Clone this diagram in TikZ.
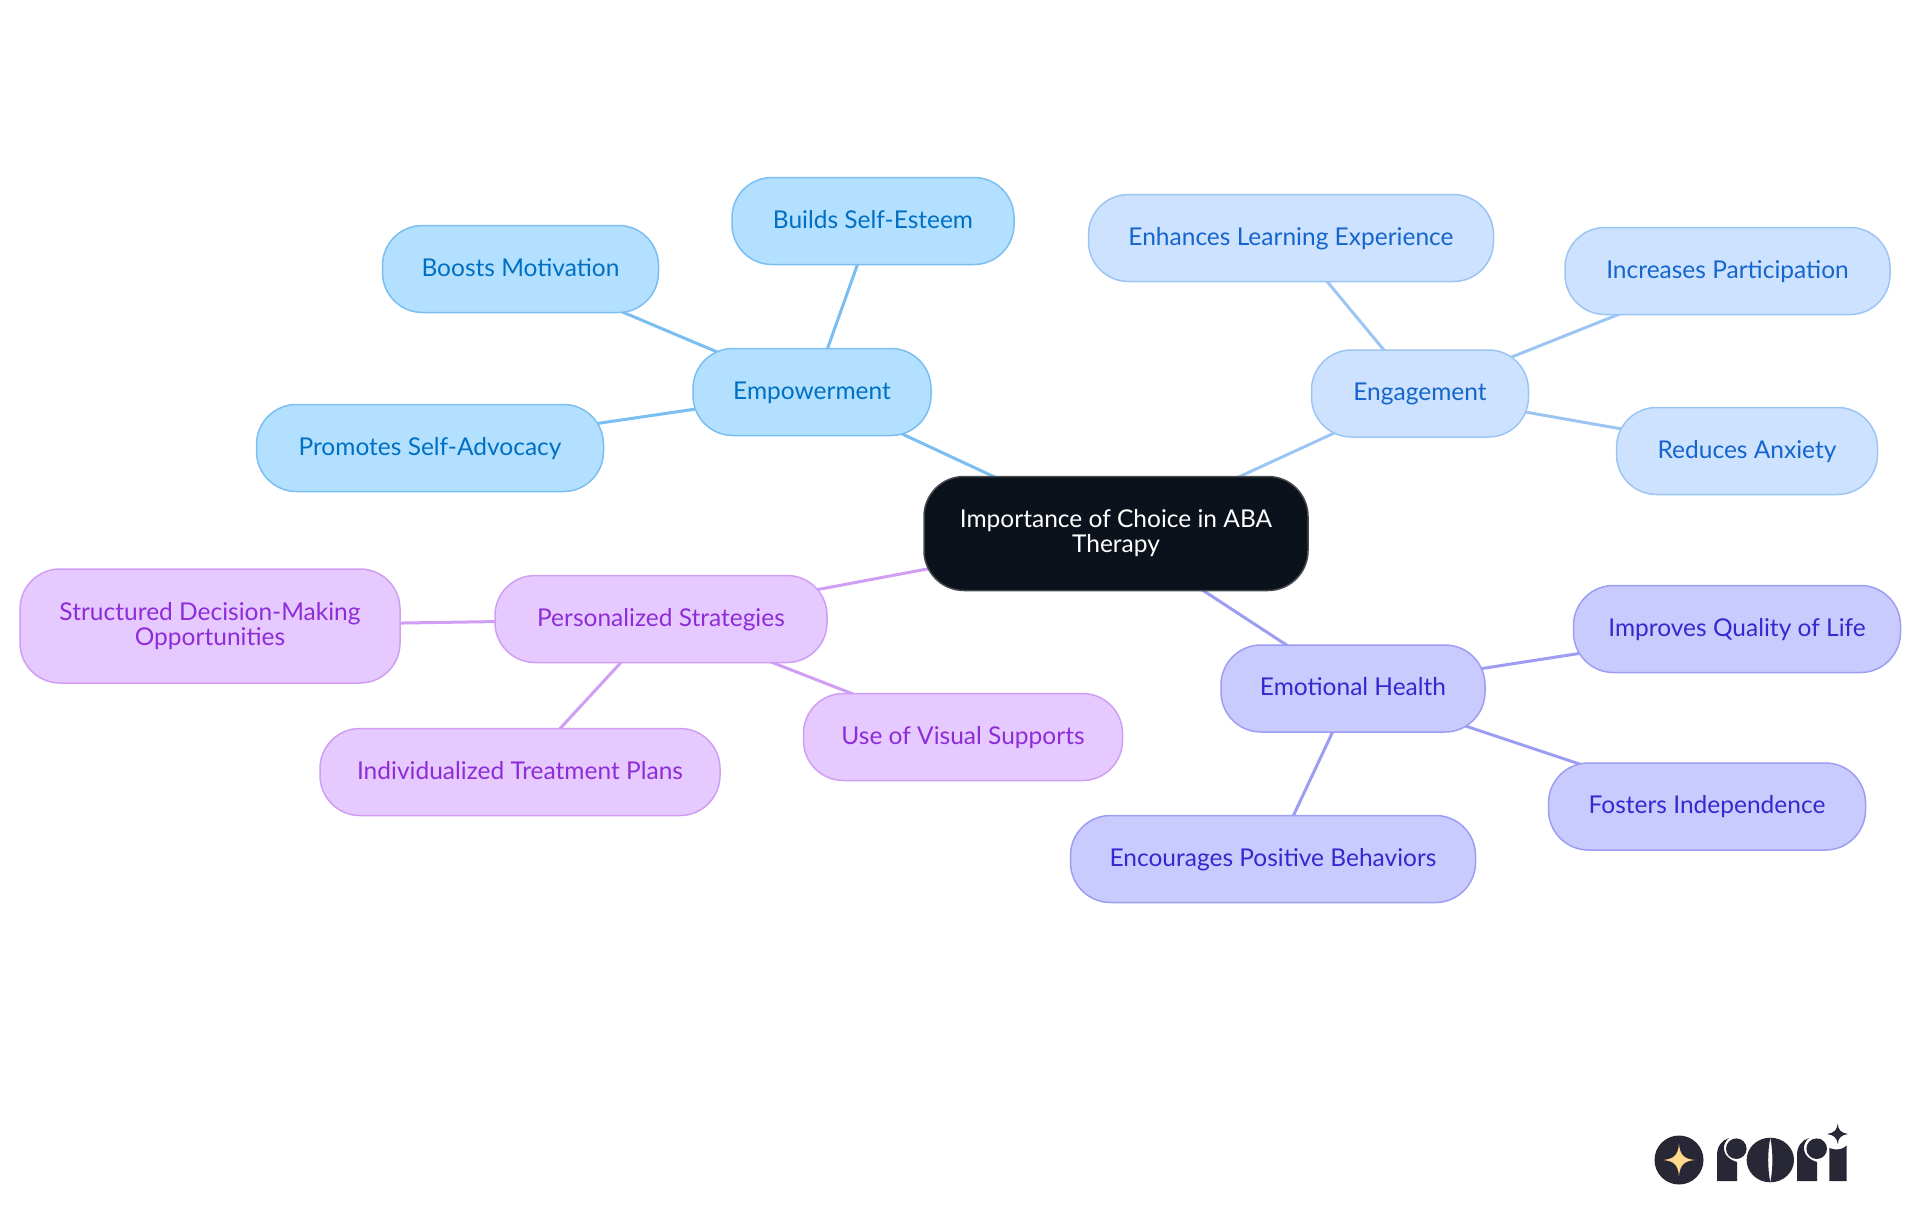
\documentclass[tikz,border=0pt]{standalone}
\usepackage{fontspec}
\usepackage{tikz}
\setmainfont{Lato}
\usetikzlibrary{backgrounds}
\definecolor{rootfill}{HTML}{0B121B}
\definecolor{rootline}{HTML}{45494F}
\definecolor{empfill}{HTML}{B3E0FF}
\definecolor{empline}{HTML}{7ABEF2}
\definecolor{emptext}{HTML}{0070C4}
\definecolor{engfill}{HTML}{CCE2FF}
\definecolor{engline}{HTML}{9CC5F3}
\definecolor{engtext}{HTML}{1565CC}
\definecolor{emofill}{HTML}{C9CBFF}
\definecolor{emoline}{HTML}{9D9DF3}
\definecolor{emotext}{HTML}{3528CC}
\definecolor{perfill}{HTML}{E6CAFF}
\definecolor{perline}{HTML}{D09EF3}
\definecolor{pertext}{HTML}{8E2CD8}
\definecolor{logodark}{HTML}{282736}
\definecolor{logostar}{HTML}{FFD98C}
\tikzset{
  bubble/.style={rounded corners=40pt, line width=1.5pt, inner sep=0pt, align=center,
    minimum height=87pt, text height=20pt, text depth=6pt, font=\fontsize{24.5}{25}\selectfont},
  twoline/.style={text height=, text depth=, minimum height=114pt},
  rootbubble/.style={bubble, twoline, fill=rootfill, draw=rootline, text=white, minimum width=384pt},
  empbubble/.style={bubble, fill=empfill, draw=empline, text=emptext},
  engbubble/.style={bubble, fill=engfill, draw=engline, text=engtext},
  emobubble/.style={bubble, fill=emofill, draw=emoline, text=emotext},
  perbubble/.style={bubble, fill=perfill, draw=perline, text=pertext},
  link/.style={line width=3pt}
}
\begin{document}
\begin{tikzpicture}[x=1pt,y=-1pt]
  \useasboundingbox (0,0) rectangle (1920,1215);
  \node[rootbubble] (root) at (1116,533.5) {Importance of Choice in ABA\\Therapy};

  \node[empbubble,minimum width=238pt] (emp) at (812,392) {Empowerment};
  \node[empbubble,minimum width=282pt] (esteem) at (873,221) {Builds Self-Esteem};
  \node[empbubble,minimum width=276pt] (motiv) at (520.5,269) {Boosts Motivation};
  \node[empbubble,minimum width=347pt] (advoc) at (430,448) {Promotes Self-Advocacy};

  \node[engbubble,minimum width=217pt] (eng) at (1420,393.5) {Engagement};
  \node[engbubble,minimum width=405pt] (learn) at (1291,238) {Enhances Learning Experience};
  \node[engbubble,minimum width=325pt] (partic) at (1727.5,271) {Increases Participation};
  \node[engbubble,minimum width=261pt] (anxiety) at (1747,451) {Reduces Anxiety};

  \node[emobubble,minimum width=264pt] (emo) at (1353,688.5) {Emotional Health};
  \node[emobubble,minimum width=327pt] (quality) at (1737,629) {Improves Quality of Life};
  \node[emobubble,minimum width=317pt] (indep) at (1707,806.5) {Fosters Independence};
  \node[emobubble,minimum width=405pt] (posit) at (1273,859) {Encourages Positive Behaviors};

  \node[perbubble,minimum width=332pt] (pers) at (661,619) {Personalized Strategies};
  \node[perbubble,twoline,minimum width=380pt] (decis) at (210,626) {Structured Decision-Making\\Opportunities};
  \node[perbubble,minimum width=319pt] (visual) at (963,737) {Use of Visual Supports};
  \node[perbubble,minimum width=400pt] (plans) at (520,772) {Individualized Treatment Plans};

  \begin{scope}[on background layer]
    \draw[link,empline] (root.center) -- (emp.center);
    \draw[link,empline] (emp.center) -- (esteem.center);
    \draw[link,empline] (emp.center) -- (motiv.center);
    \draw[link,empline] (emp.center) -- (advoc.center);
    \draw[link,engline] (root.center) -- (eng.center);
    \draw[link,engline] (eng.center) -- (learn.center);
    \draw[link,engline] (eng.center) -- (partic.center);
    \draw[link,engline] (eng.center) -- (anxiety.center);
    \draw[link,emoline] (root.center) -- (emo.center);
    \draw[link,emoline] (emo.center) -- (quality.center);
    \draw[link,emoline] (emo.center) -- (indep.center);
    \draw[link,emoline] (emo.center) -- (posit.center);
    \draw[link,perline] (root.center) -- (pers.center);
    \draw[link,perline] (pers.center) -- (decis.center);
    \draw[link,perline] (pers.center) -- (visual.center);
    \draw[link,perline] (pers.center) -- (plans.center);
  \end{scope}

  \fill[logodark] (1679,1160) circle (24.5);
  \fill[logostar] (1679,1144) .. controls (1680,1155) and (1684,1159) .. (1695,1160)
    .. controls (1684,1161) and (1680,1165) .. (1679,1176)
    .. controls (1678,1165) and (1674,1161) .. (1663,1160)
    .. controls (1674,1159) and (1678,1155) .. (1679,1144) -- cycle;
  \fill[logodark] (1717,1181) -- (1717,1155) .. controls (1717,1146) and (1722,1140) .. (1729,1138)
    .. controls (1722,1143) and (1720,1157) .. (1737,1162)
    -- (1737,1181) -- cycle;
  \fill[logodark] (1736.3,1148.7) circle (10.3);
  \fill[logodark] (1770.3,1137.7) .. controls (1757.2,1137.7) and (1746.6,1147.7) .. (1746.6,1160)
    .. controls (1746.6,1172.3) and (1757.2,1182.3) .. (1770.3,1182.3)
    .. controls (1767.5,1168) and (1767.5,1152) .. (1770.3,1137.7) -- cycle;
  \fill[logodark] (1770.3,1137.7) .. controls (1783.4,1137.7) and (1794,1147.7) .. (1794,1160)
    .. controls (1794,1172.3) and (1783.4,1182.3) .. (1770.3,1182.3)
    .. controls (1773.1,1168) and (1773.1,1152) .. (1770.3,1137.7) -- cycle;
  \fill[logodark] (1797,1181) -- (1797,1155) .. controls (1797,1146) and (1802,1140) .. (1809,1138)
    .. controls (1802,1143) and (1800,1157) .. (1817,1162)
    -- (1817,1181) -- cycle;
  \fill[logodark] (1816.7,1148.7) circle (10.3);
  \fill[logodark] (1829.3,1181) -- (1829.3,1148) .. controls (1838,1151) and (1843,1149) .. (1846.7,1145.5)
    -- (1846.7,1181) -- cycle;
  \fill[logodark] (1837.7,1123.5) .. controls (1838.2,1130) and (1841,1133) .. (1848,1134)
    .. controls (1841,1135) and (1838.2,1138) .. (1837.7,1144)
    .. controls (1837.2,1138) and (1834,1135) .. (1827,1134)
    .. controls (1834,1133) and (1837.2,1130) .. (1837.7,1123.5) -- cycle;
\end{tikzpicture}
\end{document}
